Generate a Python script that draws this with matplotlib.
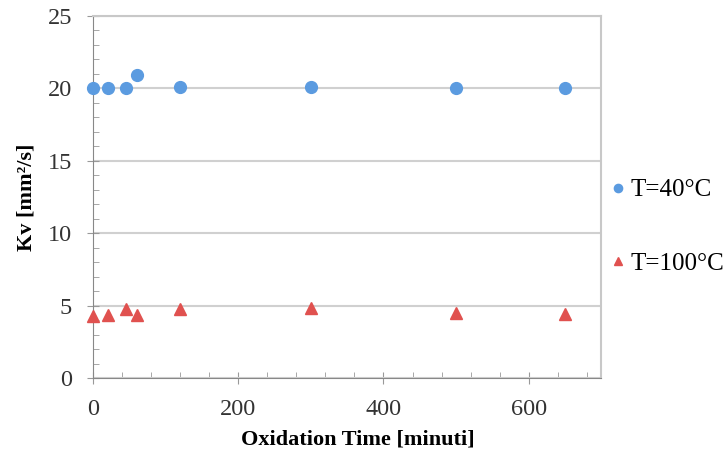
import numpy as np
import matplotlib.pyplot as plt
from matplotlib.ticker import MultipleLocator

plt.rcParams['font.family'] = ['Liberation Serif', 'DejaVu Serif']

# Dati
tempo = [0, 20, 45, 60, 120, 300, 500, 650]
kv_40 = [20.0, 20.0, 20.0, 20.9, 20.1, 20.1, 20.0, 20.05]
kv_100 = [4.3, 4.35, 4.75, 4.35, 4.78, 4.8, 4.5, 4.4]

fig = plt.figure(figsize=(7.24, 4.54), dpi=100)
ax = fig.add_axes([0.1285, 0.1674, 0.702, 0.7974])

ax.plot(tempo, kv_40, 'o', color='#5b9be0', markersize=8.5, label='T=40°C', zorder=3, clip_on=False)
ax.plot(tempo, kv_100, '^', color='#e0514f', markersize=8.5, label='T=100°C', zorder=3, clip_on=False)

ax.set_xlim(0, 700)
ax.set_ylim(0, 25)
ax.xaxis.set_major_locator(MultipleLocator(200))
ax.xaxis.set_minor_locator(MultipleLocator(40))
ax.yaxis.set_major_locator(MultipleLocator(5))
ax.yaxis.set_minor_locator(MultipleLocator(1))
ax.grid(axis='y', color='#d0d0d0', linewidth=1.5)
ax.set_axisbelow(True)

for s in ['left', 'bottom']:
    ax.spines[s].set_color('#888888')
for s in ['top', 'right']:
    ax.spines[s].set_color('#c8c8c8')
    ax.spines[s].set_linewidth(1.5)
ax.tick_params(which='both', color='#999999', labelsize=17.5, labelcolor='#333333')
ax.tick_params(which='major', direction='inout', length=8, pad=11)
ax.tick_params(which='minor', direction='in', length=4)

ax.set_xlabel('Oxidation Time [minuti]', fontsize=16, fontweight='bold')
ax.set_ylabel('Kv [mm²/s]', fontsize=16, fontweight='bold')
ax.xaxis.set_label_coords(0.52, -0.143)
ax.yaxis.set_label_coords(-0.112, 0.5)

leg = fig.legend(loc='center left', bbox_to_anchor=(0.837, 0.5), frameon=False, fontsize=18,
                 handletextpad=0.0, labelspacing=2.05, markerscale=0.7, handlelength=1.0,
                 borderaxespad=0, borderpad=0)

plt.savefig('out.png', dpi=100)
